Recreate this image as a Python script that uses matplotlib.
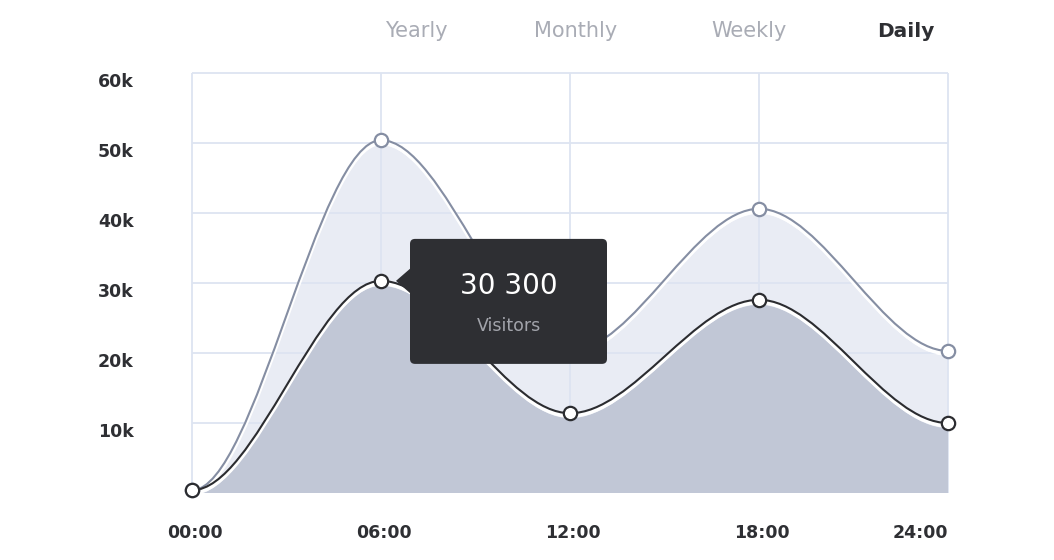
import matplotlib
matplotlib.use("Agg")
import matplotlib.pyplot as plt
from matplotlib.path import Path
from matplotlib.patches import PathPatch, FancyBboxPatch, Polygon
from matplotlib.transforms import ScaledTranslation, IdentityTransform, offset_copy

# ---------------- data ----------------
hours = [0, 6, 12, 18, 24]
x_labels = ["00:00", "06:00", "12:00", "18:00", "24:00"]
upper_values = [0.4, 50.4, 20.3, 40.6, 20.3]     # thousands
visitors_values = [0.4, 30.3, 11.4, 27.6, 10.0]  # thousands
y_ticks = [10, 20, 30, 40, 50, 60]
y_labels = ["10k", "20k", "30k", "40k", "50k", "60k"]
tabs = ["Yearly", "Monthly", "Weekly", "Daily"]
active_tab = "Daily"
tooltip_index = 1
tooltip_value = 30300
tooltip_label = "Visitors"

# ---------------- style ----------------
W, H = 1054, 560
FONT = ["DejaVu Sans"]
plt.rcParams["font.family"] = FONT
GRID = "#dde4f1"
LIGHT_FILL = "#e9ecf4"
DARK_FILL = "#c1c7d6"
GREY_LINE = "#858ea3"
BLACK_LINE = "#2b2c30"
TEXT_DARK = "#2e2f33"
TAB_GREY = "#a9acb5"
TIP_BG = "#2e2f33"

fig = plt.figure(figsize=(W / 100, H / 100), dpi=100)
ax = fig.add_axes([192 / W, (H - 493) / H, 756 / W, 420 / H])
ax.set_xlim(0, 24)
ax.set_ylim(0, 60)
ax.axis("off")


def curve_path(xs, ys, closed=False):
    verts = []
    codes = []
    if closed:
        verts.append((xs[0], 0))
        codes.append(Path.MOVETO)
        verts.append((xs[0], ys[0]))
        codes.append(Path.LINETO)
    else:
        verts.append((xs[0], ys[0]))
        codes.append(Path.MOVETO)
    for i in range(len(xs) - 1):
        dx = xs[i + 1] - xs[i]
        verts += [(xs[i] + dx / 3, ys[i]), (xs[i + 1] - dx / 3, ys[i + 1]), (xs[i + 1], ys[i + 1])]
        codes += [Path.CURVE4] * 3
    if closed:
        verts.append((xs[-1], 0))
        codes.append(Path.LINETO)
        verts.append((xs[0], 0))
        codes.append(Path.CLOSEPOLY)
    return Path(verts, codes)


def shifted(px):
    return ax.transData + ScaledTranslation(0, -px / 100, fig.dpi_scale_trans)


# upper series fill
ax.add_patch(PathPatch(curve_path(hours, upper_values, True), facecolor=LIGHT_FILL,
                       edgecolor="none", transform=shifted(5), zorder=1))

# grid
for yv in y_ticks:
    ax.plot([0, 24], [yv, yv], color=GRID, lw=1.3, zorder=1.5, clip_on=False,
            solid_capstyle="butt")
for xv in hours:
    ax.plot([xv, xv], [0, 60], color=GRID, lw=1.3, zorder=1.5, clip_on=False,
            solid_capstyle="butt")

# upper series line
ax.add_patch(PathPatch(curve_path(hours, upper_values), facecolor="none",
                       edgecolor="white", lw=3.0, transform=shifted(2.5), zorder=3))
ax.add_patch(PathPatch(curve_path(hours, upper_values), facecolor="none",
                       edgecolor=GREY_LINE, lw=1.5, zorder=3.2))

# visitors fill
ax.add_patch(PathPatch(curve_path(hours, visitors_values, True), facecolor=DARK_FILL,
                       edgecolor="none", transform=shifted(5), zorder=4))
ax.add_patch(PathPatch(curve_path(hours, visitors_values), facecolor="none",
                       edgecolor="white", lw=3.0, transform=shifted(2.5), zorder=5))
ax.add_patch(PathPatch(curve_path(hours, visitors_values), facecolor="none",
                       edgecolor=BLACK_LINE, lw=1.5, zorder=5.2))

# markers
ax.plot(hours, upper_values, linestyle="none", marker="o", markersize=9.6,
        markerfacecolor="white", markeredgecolor=GREY_LINE, markeredgewidth=1.6,
        zorder=6, clip_on=False)
ax.plot(hours, visitors_values, linestyle="none", marker="o", markersize=9.6,
        markerfacecolor="white", markeredgecolor=BLACK_LINE, markeredgewidth=1.6,
        zorder=6.5, clip_on=False)

# y labels (slightly below their grid lines)
ylab_tr = offset_copy(ax.get_yaxis_transform(), fig=fig, x=0, y=-14, units="dots")
for yv, lab in zip(y_ticks, y_labels):
    ax.text((98 - 192) / 756, yv, lab, transform=ylab_tr, ha="left", va="baseline",
            fontsize=12.5, fontweight="bold", color=TEXT_DARK)

# x labels
xlab_tr = offset_copy(ax.get_xaxis_transform(), fig=fig, x=0, y=-45, units="dots")
for i, (xv, lab) in enumerate(zip(hours, x_labels)):
    ha = "right" if i == len(hours) - 1 else "center"
    dx = 0 if i == len(hours) - 1 else 3
    ax.text(xv, 0, lab, transform=offset_copy(xlab_tr, fig=fig, x=dx, y=0, units="dots"),
            ha=ha, va="baseline", fontsize=12.5, fontweight="bold", color=TEXT_DARK)

# tabs
tab_x = [416, 576, 749, 906]
for name, tx in zip(tabs, tab_x):
    active = name == active_tab
    fig.text(tx / W, 1 - 37.3 / H, name, ha="center", va="baseline",
             fontsize=15 if not active else 14.5,
             fontweight="bold" if active else "normal",
             color=TEXT_DARK if active else TAB_GREY)

# tooltip anchored at the highlighted point
fig.canvas.draw()
px, py = ax.transData.transform((hours[tooltip_index], visitors_values[tooltip_index]))
idt = IdentityTransform()
left, right = px + 29, px + 226
top, bottom = py + 42, py - 83
box = FancyBboxPatch((left, bottom), right - left, top - bottom,
                     boxstyle="round,pad=0,rounding_size=5", facecolor=TIP_BG,
                     edgecolor="none", transform=idt, zorder=10)
fig.patches.append(box)
tri = Polygon([(px + 15, py), (left + 1, py + 13), (left + 1, py - 13)], closed=True,
              facecolor=TIP_BG, edgecolor="none", transform=idt, zorder=10)
fig.patches.append(tri)
cx = (left + right) / 2
val_txt = f"{tooltip_value:,}".replace(",", " ")
fig.text(cx / W, (py - 13) / H, val_txt, ha="center", va="baseline", fontsize=20,
         color="white", fontweight="normal", zorder=11)
fig.text(cx / W, (py - 50) / H, tooltip_label, ha="center", va="baseline", fontsize=12.5,
         color="#a2a4ab", fontweight="normal", zorder=11)

fig.savefig("out.png", dpi=100)
